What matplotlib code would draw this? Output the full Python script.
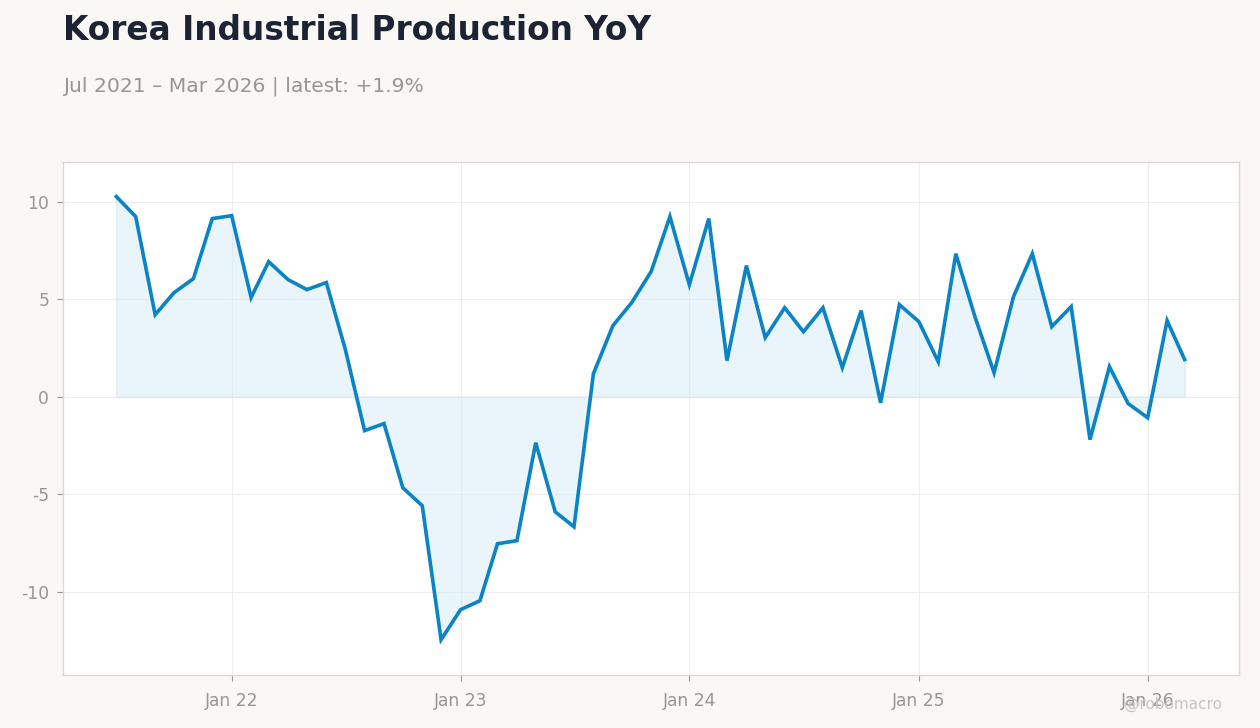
import numpy as np
import pandas as pd
from matplotlib import pyplot as plt
import matplotlib.dates as mdates

dates = pd.date_range('2021-07-01', '2026-03-01', freq='MS')
values = [10.26, 9.23, 4.2, 5.33, 6.05, 9.13,
          9.28, 5.08, 6.92, 6.0, 5.49, 5.85, 2.46, -1.74, -1.38, -4.67, -5.59, -12.46,
          -10.92, -10.46, -7.54, -7.38, -2.36, -5.9, -6.67, 1.18, 3.64, 4.82, 6.41, 9.23,
          5.74, 9.13, 1.85, 6.72, 3.03, 4.56, 3.33, 4.56, 1.49, 4.41, -0.31, 4.72,
          3.85, 1.79, 7.33, 4.05, 1.23, 5.13, 7.33, 3.59, 4.62, -2.2, 1.54, -0.36,
          -1.08, 3.9, 1.9]
yticks = [-10, -5, 0, 5, 10]
tick_dates = pd.to_datetime(['2022-01-01', '2023-01-01', '2024-01-01', '2025-01-01', '2026-01-01'])
tick_labels = ['Jan 22', 'Jan 23', 'Jan 24', 'Jan 25', 'Jan 26']

bg = '#f9f8f5'
line_col = '#0a84c6'
grey = '#9a9590'

fig = plt.figure(figsize=(12.6, 7.28), dpi=100)
fig.patch.set_facecolor(bg)
ax = fig.add_axes([0.05, 0.073, 0.933, 0.705])
ax.set_facecolor('white')

ax.fill_between(dates, values, 0, color='#d6eaf8', alpha=0.5, linewidth=1, edgecolor='#c8e0f0')
ax.plot(dates, values, color=line_col, linewidth=2.6, solid_joinstyle='miter')

ax.set_xlim(dates[0] - pd.Timedelta(days=85), dates[-1] + pd.Timedelta(days=86))
ax.set_ylim(-14.26, 12.05)
ax.set_yticks(yticks)
ax.set_yticklabels([str(v) for v in yticks])
ax.set_xticks(tick_dates)
ax.set_xticklabels(tick_labels)

ax.grid(True, color='#eeeeee', linewidth=0.8)
ax.set_axisbelow(True)
for s in ax.spines.values():
    s.set_color('#ddd8d0')
    s.set_linewidth(1)
ax.tick_params(colors=grey, labelsize=12.3, length=4, width=0.8, pad=6)
ax.tick_params(axis='x', pad=8)

fig.text(0.05, 0.958, 'Korea Industrial Production YoY', fontsize=23.6, fontweight='bold',
         color='#1c2434', va='center', ha='left')
fig.text(0.05, 0.882, 'Jul 2021 \u2013 Mar 2026 | latest: +1.9%', fontsize=14.6,
         color=grey, va='center', ha='left')
fig.text(0.97, 0.032, '@robomacro', fontsize=11, color='#c8c5c0', ha='right', va='center')

fig.savefig('out.png', dpi=100, facecolor=bg)
